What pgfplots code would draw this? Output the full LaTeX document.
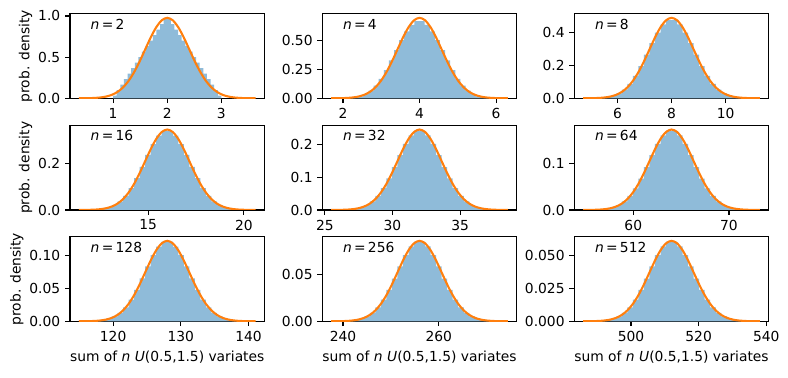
\documentclass[border=0pt]{standalone}
\usepackage{fontspec}
\setmainfont{DejaVu Sans}
\usepackage{pgfplots}
\pgfplotsset{compat=1.18}
\definecolor{histc}{HTML}{8FBBD9}
\definecolor{curvec}{HTML}{FF7F0E}
\pgfplotsset{panel/.style={
  scale only axis, width=140.04bp, height=60.84bp, anchor=south west,
  axis line style={line width=0.8bp},
  tick align=outside, xtick pos=left, ytick pos=left,
  major tick length=3.5bp, every tick/.style={black, line width=0.8bp},
  scaled y ticks=false, scaled x ticks=false,
  ymin=0, font=\fontsize{10}{12}\selectfont,
  tick label style={font=\fontsize{10}{12}\selectfont},
  ylabel style={yshift=-2.5bp},
  /pgf/number format/assume math mode=true,
  hist/.style={ybar interval, fill=histc, draw=none},
  curve/.style={curvec, line width=1.5bp, smooth},
}}
\newcommand{\nlab}[1]{\node[anchor=base west, inner sep=0pt, font=\fontsize{10}{12}\selectfont] at (rel axis cs:0.105,0.82) {\textit{n}\,=\,#1};}
\begin{document}
\begin{tikzpicture}
\path[use as bounding box] (0,0) rectangle (567.36bp,271.44bp);
% ---------- n=2
\begin{axis}[panel, at={(50.4bp,200.66bp)}, xmin=0.2036, xmax=3.7964, ymax=1.02607,
  xtick={1,2,3}, xticklabels={1,2,3}, ytick={0,0.5,1}, yticklabels={0.0,0.5,1.0},
  ylabel={prob. density}]
\addplot[hist] table[row sep=\\]{x y\\
1.0000 0.0333\\ 1.0667 0.1000\\ 1.1333 0.1667\\ 1.2000 0.2333\\ 1.2667 0.3000\\ 1.3333 0.3667\\ 1.4000 0.4333\\ 1.4667 0.5000\\ 1.5333 0.5667\\ 1.6000 0.6333\\ 1.6667 0.7000\\ 1.7333 0.7667\\ 1.8000 0.8333\\ 1.8667 0.9000\\ 1.9333 0.9667\\
2.0000 0.9667\\ 2.0667 0.9000\\ 2.1333 0.8333\\ 2.2000 0.7667\\ 2.2667 0.7000\\ 2.3333 0.6333\\ 2.4000 0.5667\\ 2.4667 0.5000\\ 2.5333 0.4333\\ 2.6000 0.3667\\ 2.6667 0.3000\\ 2.7333 0.2333\\ 2.8000 0.1667\\ 2.8667 0.1000\\ 2.9333 0.0333\\ 3.0000 0\\};
\addplot[curve] table[row sep=\\]{x y\\
0.3670 0.000328\\ 0.4691 0.000865\\ 0.5711 0.002138\\ 0.6732 0.004970\\ 0.7753 0.010856\\ 0.8773 0.022276\\ 0.9794 0.042935\\ 1.0814 0.077747\\ 1.1835 0.132250\\ 1.2856 0.211335\\ 1.3876 0.317253\\ 1.4897 0.447397\\ 1.5918 0.592705\\ 1.6938 0.737632\\ 1.7959 0.862381\\ 1.8979 0.947139\\ 2.0000 0.977205\\
2.1021 0.947139\\ 2.2041 0.862381\\ 2.3062 0.737632\\ 2.4082 0.592705\\ 2.5103 0.447397\\ 2.6124 0.317253\\ 2.7144 0.211335\\ 2.8165 0.132250\\ 2.9186 0.077747\\ 3.0206 0.042935\\ 3.1227 0.022276\\ 3.2247 0.010856\\ 3.3268 0.004970\\ 3.4289 0.002138\\ 3.5309 0.000865\\ 3.6330 0.000328\\};
\nlab{2}
\end{axis}
% ---------- n=4
\begin{axis}[panel, at={(232.06bp,200.66bp)}, xmin=1.4598, xmax=6.5402, ymax=0.72554,
  xtick={2,4,6}, xticklabels={2,4,6}, ytick={0,0.25,0.5}, yticklabels={0.00,0.25,0.50}]
\addplot[hist] table[row sep=\\]{x y\\
2.0000 0.000049\\ 2.1333 0.001333\\ 2.2667 0.006173\\ 2.4000 0.016938\\ 2.5333 0.036000\\ 2.6667 0.065728\\ 2.8000 0.108494\\ 2.9333 0.166667\\ 3.0667 0.241039\\ 3.2000 0.326074\\ 3.3333 0.414667\\ 3.4667 0.499704\\ 3.6000 0.574074\\ 3.7333 0.630667\\ 3.8667 0.662370\\
4.0000 0.662370\\ 4.1333 0.630667\\ 4.2667 0.574074\\ 4.4000 0.499704\\ 4.5333 0.414667\\ 4.6667 0.326074\\ 4.8000 0.241039\\ 4.9333 0.166667\\ 5.0667 0.108494\\ 5.2000 0.065728\\ 5.3333 0.036000\\ 5.4667 0.016938\\ 5.6000 0.006173\\ 5.7333 0.001333\\ 5.8667 0.000049\\ 6.0000 0\\};
\addplot[curve] table[row sep=\\]{x y\\
1.6906 0.000232\\ 1.8349 0.000611\\ 1.9793 0.001512\\ 2.1236 0.003514\\ 2.2679 0.007676\\ 2.4123 0.015751\\ 2.5566 0.030359\\ 2.7010 0.054975\\ 2.8453 0.093515\\ 2.9896 0.149436\\ 3.1340 0.224332\\ 3.2783 0.316357\\ 3.4226 0.419106\\ 3.5670 0.521585\\ 3.7113 0.609795\\ 3.8557 0.669729\\ 4.0000 0.690988\\
4.1443 0.669729\\ 4.2887 0.609795\\ 4.4330 0.521585\\ 4.5774 0.419106\\ 4.7217 0.316357\\ 4.8660 0.224332\\ 5.0104 0.149436\\ 5.1547 0.093515\\ 5.2990 0.054975\\ 5.4434 0.030359\\ 5.5877 0.015751\\ 5.7321 0.007676\\ 5.8764 0.003514\\ 6.0207 0.001512\\ 6.1651 0.000611\\ 6.3094 0.000232\\};
\nlab{4}
\end{axis}
% ---------- n=8
\begin{axis}[panel, at={(413.50bp,200.66bp)}, xmin=4.4074, xmax=11.5926, ymax=0.51303,
  xtick={6,8,10}, xticklabels={6,8,10}, ytick={0,0.2,0.4}, yticklabels={0.0,0.2,0.4}]
\addplot[hist] table[row sep=\\]{x y\\
5.1423 0.001025\\ 5.3464 0.002865\\ 5.5505 0.006919\\ 5.7546 0.014932\\ 5.9588 0.029284\\ 6.1629 0.052747\\ 6.3670 0.087820\\ 6.5711 0.135833\\ 6.7753 0.195954\\ 6.9794 0.264519\\ 7.1835 0.335094\\ 7.3876 0.399244\\ 7.5918 0.448219\\ 7.7959 0.474750\\
8.0000 0.474750\\ 8.2041 0.448219\\ 8.4082 0.399244\\ 8.6124 0.335094\\ 8.8165 0.264519\\ 9.0206 0.195954\\ 9.2247 0.135833\\ 9.4289 0.087820\\ 9.6330 0.052747\\ 9.8371 0.029284\\ 10.0412 0.014932\\ 10.2454 0.006919\\ 10.4495 0.002865\\ 10.6536 0.001025\\ 10.8577 0\\};
\addplot[curve] table[row sep=\\]{x y\\
4.7340 0.000164\\ 4.9381 0.000433\\ 5.1423 0.001069\\ 5.3464 0.002485\\ 5.5505 0.005428\\ 5.7546 0.011138\\ 5.9588 0.021468\\ 6.1629 0.038874\\ 6.3670 0.066125\\ 6.5711 0.105668\\ 6.7753 0.158627\\ 6.9794 0.223699\\ 7.1835 0.296353\\ 7.3876 0.368816\\ 7.5918 0.431191\\ 7.7959 0.473570\\ 8.0000 0.488603\\
8.2041 0.473570\\ 8.4082 0.431191\\ 8.6124 0.368816\\ 8.8165 0.296353\\ 9.0206 0.223699\\ 9.2247 0.158627\\ 9.4289 0.105668\\ 9.6330 0.066125\\ 9.8371 0.038874\\ 10.0412 0.021468\\ 10.2454 0.011138\\ 10.4495 0.005428\\ 10.6536 0.002485\\ 10.8577 0.001069\\ 11.0619 0.000433\\ 11.2660 0.000164\\};
\nlab{8}
\end{axis}
% ---------- n=16
\begin{axis}[panel, at={(50.4bp,120.24bp)}, xmin=10.9193, xmax=21.0807, ymax=0.36277,
  xtick={15,20}, xticklabels={15,20}, ytick={0,0.2}, yticklabels={0.0,0.2},
  ylabel={prob. density}]
\addplot[hist] table[row sep=\\]{x y\\
11.9585 0.000959\\ 12.2472 0.002351\\ 12.5359 0.005269\\ 12.8246 0.010872\\ 13.1132 0.020770\\ 13.4019 0.036879\\ 13.6906 0.061031\\ 13.9793 0.094355\\ 14.2679 0.136561\\ 14.5566 0.185328\\ 14.8453 0.236204\\ 15.1340 0.283028\\ 15.4226 0.319128\\ 15.7113 0.338815\\
16.0000 0.338815\\ 16.2887 0.319128\\ 16.5774 0.283028\\ 16.8660 0.236204\\ 17.1547 0.185328\\ 17.4434 0.136561\\ 17.7321 0.094355\\ 18.0207 0.061031\\ 18.3094 0.036879\\ 18.5981 0.020770\\ 18.8868 0.010872\\ 19.1754 0.005269\\ 19.4641 0.002351\\ 19.7528 0.000959\\ 20.0415 0\\};
\addplot[curve] table[row sep=\\]{x y\\
11.3812 0.000116\\ 11.6699 0.000306\\ 11.9585 0.000756\\ 12.2472 0.001757\\ 12.5359 0.003838\\ 12.8246 0.007876\\ 13.1132 0.015180\\ 13.4019 0.027488\\ 13.6906 0.046758\\ 13.9793 0.074718\\ 14.2679 0.112166\\ 14.5566 0.158179\\ 14.8453 0.209553\\ 15.1340 0.260793\\ 15.4226 0.304898\\ 15.7113 0.334865\\ 16.0000 0.345494\\
16.2887 0.334865\\ 16.5774 0.304898\\ 16.8660 0.260793\\ 17.1547 0.209553\\ 17.4434 0.158179\\ 17.7321 0.112166\\ 18.0207 0.074718\\ 18.3094 0.046758\\ 18.5981 0.027488\\ 18.8868 0.015180\\ 19.1754 0.007876\\ 19.4641 0.003838\\ 19.7528 0.001757\\ 20.0415 0.000756\\ 20.3301 0.000306\\ 20.6188 0.000116\\};
\nlab{16}
\end{axis}
% ---------- n=32
\begin{axis}[panel, at={(232.06bp,120.24bp)}, xmin=24.8148, xmax=39.1852, ymax=0.25652,
  xtick={25,30,35}, xticklabels={25,30,35}, ytick={0,0.1,0.2}, yticklabels={0.0,0.1,0.2}]
\addplot[hist] table[row sep=\\]{x y\\
26.2845 0.000761\\ 26.6928 0.001778\\ 27.1010 0.003858\\ 27.5093 0.007799\\ 27.9175 0.014709\\ 28.3258 0.025930\\ 28.7340 0.042636\\ 29.1423 0.066121\\ 29.5505 0.095855\\ 29.9588 0.130441\\ 30.3670 0.166761\\ 30.7753 0.200384\\ 31.1835 0.226432\\ 31.5918 0.240678\\
32.0000 0.240678\\ 32.4082 0.226432\\ 32.8165 0.200384\\ 33.2247 0.166761\\ 33.6330 0.130441\\ 34.0412 0.095855\\ 34.4495 0.066121\\ 34.8577 0.042636\\ 35.2660 0.025930\\ 35.6742 0.014709\\ 36.0825 0.007799\\ 36.4907 0.003858\\ 36.8990 0.001778\\ 37.3072 0.000761\\ 37.7155 0\\};
\addplot[curve] table[row sep=\\]{x y\\
25.4680 0.000082\\ 25.8763 0.000216\\ 26.2845 0.000535\\ 26.6928 0.001243\\ 27.1010 0.002714\\ 27.5093 0.005569\\ 27.9175 0.010734\\ 28.3258 0.019437\\ 28.7340 0.033063\\ 29.1423 0.052834\\ 29.5505 0.079313\\ 29.9588 0.111849\\ 30.3670 0.148176\\ 30.7753 0.184408\\ 31.1835 0.215595\\ 31.5918 0.236785\\ 32.0000 0.244301\\
32.4082 0.236785\\ 32.8165 0.215595\\ 33.2247 0.184408\\ 33.6330 0.148176\\ 34.0412 0.111849\\ 34.4495 0.079313\\ 34.8577 0.052834\\ 35.2660 0.033063\\ 35.6742 0.019437\\ 36.0825 0.010734\\ 36.4907 0.005569\\ 36.8990 0.002714\\ 37.3072 0.001243\\ 37.7155 0.000535\\ 38.1237 0.000216\\ 38.5320 0.000082\\};
\nlab{32}
\end{axis}
% ---------- n=64
\begin{axis}[panel, at={(413.50bp,120.24bp)}, xmin=53.8387, xmax=74.1613, ymax=0.18138,
  xtick={60,70}, xticklabels={60,70}, ytick={0,0.1}, yticklabels={0.0,0.1}]
\addplot[hist] table[row sep=\\]{x y\\
55.9171 0.000568\\ 56.4944 0.001298\\ 57.0718 0.002775\\ 57.6491 0.005554\\ 58.2265 0.010408\\ 58.8038 0.018284\\ 59.3812 0.030115\\ 59.9585 0.046542\\ 60.5359 0.067530\\ 61.1132 0.092021\\ 61.6906 0.117824\\ 62.2679 0.141783\\ 62.8453 0.160385\\ 63.4226 0.170574\\
64.0000 0.170574\\ 64.5774 0.160385\\ 65.1547 0.141783\\ 65.7321 0.117824\\ 66.3094 0.092021\\ 66.8868 0.067530\\ 67.4641 0.046542\\ 68.0415 0.030115\\ 68.6188 0.018284\\ 69.1962 0.010408\\ 69.7735 0.005554\\ 70.3509 0.002775\\ 70.9282 0.001298\\ 71.5056 0.000568\\ 72.0829 0\\};
\addplot[curve] table[row sep=\\]{x y\\
54.7624 0.000058\\ 55.3397 0.000153\\ 55.9171 0.000378\\ 56.4944 0.000879\\ 57.0718 0.001919\\ 57.6491 0.003938\\ 58.2265 0.007590\\ 58.8038 0.013744\\ 59.3812 0.023379\\ 59.9585 0.037359\\ 60.5359 0.056083\\ 61.1132 0.079089\\ 61.6906 0.104777\\ 62.2679 0.130396\\ 62.8453 0.152449\\ 63.4226 0.167432\\ 64.0000 0.172747\\
64.5774 0.167432\\ 65.1547 0.152449\\ 65.7321 0.130396\\ 66.3094 0.104777\\ 66.8868 0.079089\\ 67.4641 0.056083\\ 68.0415 0.037359\\ 68.6188 0.023379\\ 69.1962 0.013744\\ 69.7735 0.007590\\ 70.3509 0.003938\\ 70.9282 0.001919\\ 71.5056 0.000879\\ 72.0829 0.000378\\ 72.6603 0.000153\\ 73.2376 0.000058\\};
\nlab{64}
\end{axis}
% ---------- n=128
\begin{axis}[panel, at={(50.4bp,40.10bp)}, xmin=113.6297, xmax=142.3703, ymax=0.12826,
  xtick={120,130,140}, xticklabels={120,130,140}, ytick={0,0.05,0.1}, yticklabels={0.00,0.05,0.10},
  ylabel={prob. density}, xlabel={sum of \textit{n} \textit{U}(0.5,1.5) variates}]
\addplot[hist] table[row sep=\\]{x y\\
116.5690 0.000413\\ 117.3855 0.000935\\ 118.2020 0.001984\\ 119.0185 0.003944\\ 119.8350 0.007365\\ 120.6515 0.012900\\ 121.4680 0.021248\\ 122.2845 0.032836\\ 123.1010 0.047662\\ 123.9175 0.064993\\ 124.7340 0.083300\\ 125.5505 0.100287\\ 126.3670 0.113472\\ 127.1835 0.120752\\
128.0000 0.120752\\ 128.8165 0.113472\\ 129.6330 0.100287\\ 130.4495 0.083300\\ 131.2660 0.064993\\ 132.0825 0.047662\\ 132.8990 0.032836\\ 133.7155 0.021248\\ 134.5320 0.012900\\ 135.3485 0.007365\\ 136.1650 0.003944\\ 136.9815 0.001984\\ 137.7980 0.000935\\ 138.6145 0.000413\\ 139.4310 0\\};
\addplot[curve] table[row sep=\\]{x y\\
114.9361 0.000041\\ 115.7526 0.000108\\ 116.5690 0.000267\\ 117.3855 0.000621\\ 118.2020 0.001357\\ 119.0185 0.002785\\ 119.8350 0.005367\\ 120.6515 0.009718\\ 121.4680 0.016531\\ 122.2845 0.026417\\ 123.1010 0.039657\\ 123.9175 0.055925\\ 124.7340 0.074088\\ 125.5505 0.092204\\ 126.3670 0.107798\\ 127.1835 0.118392\\ 128.0000 0.122151\\
128.8165 0.118392\\ 129.6330 0.107798\\ 130.4495 0.092204\\ 131.2660 0.074088\\ 132.0825 0.055925\\ 132.8990 0.039657\\ 133.7155 0.026417\\ 134.5320 0.016531\\ 135.3485 0.009718\\ 136.1650 0.005367\\ 136.9815 0.002785\\ 137.7980 0.001357\\ 138.6145 0.000621\\ 139.4310 0.000267\\ 140.2474 0.000108\\ 141.0639 0.000041\\};
\nlab{128}
\end{axis}
% ---------- n=256
\begin{axis}[panel, at={(232.06bp,40.10bp)}, xmin=235.6773, xmax=276.3227, ymax=0.090693,
  xtick={240,260}, xticklabels={240,260}, ytick={0,0.05}, yticklabels={0.00,0.05},
  xlabel={sum of \textit{n} \textit{U}(0.5,1.5) variates}]
\addplot[hist] table[row sep=\\]{x y\\
239.8342 0.000299\\ 240.9889 0.000671\\ 242.1436 0.001413\\ 243.2983 0.002796\\ 244.4530 0.005206\\ 245.6077 0.009115\\ 246.7624 0.015007\\ 247.9171 0.023192\\ 249.0718 0.033671\\ 250.2265 0.045925\\ 251.3812 0.058878\\ 252.5359 0.070925\\ 253.6906 0.080295\\ 254.8453 0.085435\\
256.0000 0.085435\\ 257.1547 0.080295\\ 258.3094 0.070925\\ 259.4641 0.058878\\ 260.6188 0.045925\\ 261.7735 0.033671\\ 262.9282 0.023192\\ 264.0829 0.015007\\ 265.2376 0.009115\\ 266.3923 0.005206\\ 267.5470 0.002796\\ 268.7017 0.001413\\ 269.8564 0.000671\\ 271.0111 0.000299\\ 272.1658 0\\};
\addplot[curve] table[row sep=\\]{x y\\
237.5248 0.000029\\ 238.6795 0.000076\\ 239.8342 0.000189\\ 240.9889 0.000439\\ 242.1436 0.000960\\ 243.2983 0.001969\\ 244.4530 0.003795\\ 245.6077 0.006872\\ 246.7624 0.011689\\ 247.9171 0.018680\\ 249.0718 0.028042\\ 250.2265 0.039545\\ 251.3812 0.052388\\ 252.5359 0.065198\\ 253.6906 0.076224\\ 254.8453 0.083716\\ 256.0000 0.086374\\
257.1547 0.083716\\ 258.3094 0.076224\\ 259.4641 0.065198\\ 260.6188 0.052388\\ 261.7735 0.039545\\ 262.9282 0.028042\\ 264.0829 0.018680\\ 265.2376 0.011689\\ 266.3923 0.006872\\ 267.5470 0.003795\\ 268.7017 0.001969\\ 269.8564 0.000960\\ 271.0111 0.000439\\ 272.1658 0.000189\\ 273.3205 0.000076\\ 274.4752 0.000029\\};
\nlab{256}
\end{axis}
% ---------- n=512
\begin{axis}[panel, at={(413.50bp,40.10bp)}, xmin=483.2593, xmax=540.7407, ymax=0.064129,
  xtick={500,520,540}, xticklabels={500,520,540}, ytick={0,0.025,0.05}, yticklabels={0.000,0.025,0.050},
  xlabel={sum of \textit{n} \textit{U}(0.5,1.5) variates}]
\addplot[hist] table[row sep=\\]{x y\\
489.1381 0.000210\\ 490.7711 0.000473\\ 492.4041 0.000997\\ 494.0371 0.001978\\ 495.6701 0.003684\\ 497.3031 0.006450\\ 498.9361 0.010609\\ 500.5690 0.016396\\ 502.2020 0.023808\\ 503.8350 0.032468\\ 505.4680 0.041629\\ 507.1010 0.050156\\ 508.7340 0.056787\\ 510.3670 0.060424\\
512.0000 0.060424\\ 513.6330 0.056787\\ 515.2660 0.050156\\ 516.8990 0.041629\\ 518.5320 0.032468\\ 520.1650 0.023808\\ 521.7980 0.016396\\ 523.4310 0.010609\\ 525.0639 0.006450\\ 526.6969 0.003684\\ 528.3299 0.001978\\ 529.9629 0.000997\\ 531.5959 0.000473\\ 533.2289 0.000210\\ 534.8619 0\\};
\addplot[curve] table[row sep=\\]{x y\\
485.8721 0.000021\\ 487.5051 0.000054\\ 489.1381 0.000134\\ 490.7711 0.000311\\ 492.4041 0.000679\\ 494.0371 0.001392\\ 495.6701 0.002683\\ 497.3031 0.004859\\ 498.9361 0.008266\\ 500.5690 0.013208\\ 502.2020 0.019828\\ 503.8350 0.027962\\ 505.4680 0.037044\\ 507.1010 0.046102\\ 508.7340 0.053899\\ 510.3670 0.059196\\ 512.0000 0.061075\\
513.6330 0.059196\\ 515.2660 0.053899\\ 516.8990 0.046102\\ 518.5320 0.037044\\ 520.1650 0.027962\\ 521.7980 0.019828\\ 523.4310 0.013208\\ 525.0639 0.008266\\ 526.6969 0.004859\\ 528.3299 0.002683\\ 529.9629 0.001392\\ 531.5959 0.000679\\ 533.2289 0.000311\\ 534.8619 0.000134\\ 536.4949 0.000054\\ 538.1279 0.000021\\};
\nlab{512}
\end{axis}
\end{tikzpicture}
\end{document}
